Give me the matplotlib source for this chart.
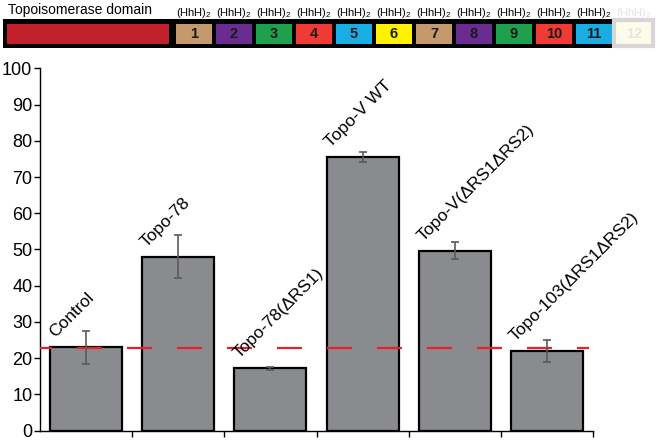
import matplotlib
matplotlib.use("Agg")
import matplotlib.pyplot as plt
from matplotlib.patches import Rectangle

plt.rcParams['font.family'] = ['Liberation Sans', 'DejaVu Sans']
plt.rcParams['mathtext.fontset'] = 'custom'
plt.rcParams['mathtext.rm'] = 'Liberation Sans'
plt.rcParams['lines.scale_dashes'] = False

# ---- data ----
categories = ['Control', 'Topo-78', 'Topo-78(\u0394RS1)', 'Topo-V WT',
              'Topo-V(\u0394RS1\u0394RS2)', 'Topo-103(\u0394RS1\u0394RS2)']
values = [23.0, 48.0, 17.2, 75.6, 49.7, 22.0]
err_low = [18.5, 42.0, 16.8, 74.2, 47.5, 19.0]
err_high = [27.5, 54.0, 17.6, 77.0, 52.0, 25.0]
control_level = 22.8
y_ticks = list(range(0, 101, 10))

domain_title = 'Topoisomerase domain'
hhh_numbers = ['1', '2', '3', '4', '5', '6', '7', '8', '9', '10', '11', '12']
hhh_colors = ['#C49A6C', '#6A2C91', '#1FA04F', '#EE3B33', '#1AADE4', '#FFF200',
              '#C49A6C', '#6A2C91', '#1FA04F', '#EE3B33', '#1AADE4', '#FDFBE9']
topo_color = '#C1212B'

W, H = 661, 440
fig = plt.figure(figsize=(W / 100, H / 100), dpi=100)

# ---- main bar chart ----
ax = fig.add_axes([40 / W, 9.5 / H, 553 / W, 362 / H])
x = [i + 0.5 for i in range(len(categories))]
ax.bar(x, values, width=0.78, color='#8A8B8E', edgecolor='black', linewidth=1.6, zorder=2)
yerr = [[v - lo for v, lo in zip(values, err_low)], [hi - v for v, hi in zip(values, err_high)]]
ax.errorbar(x, values, yerr=yerr, fmt='none', ecolor='#5A5A5A', elinewidth=1.2,
            capsize=2.8, capthick=1.2, zorder=4)
ax.plot([0, 5.96], [control_level, control_level], color='#E8202A', linewidth=1.6,
        linestyle=(9.4, (18, 18)), dash_capstyle='butt', zorder=3)

for i, (lab, v) in enumerate(zip(categories, values)):
    ax.text(i + 0.16, v + 2.5, lab, rotation=45, rotation_mode='anchor',
            ha='left', va='baseline', fontsize=12.5, zorder=5)

ax.set_xlim(0, 6)
ax.set_ylim(0, 100)
ax.set_yticks(y_ticks)
ax.set_xticks(range(1, 7))
ax.set_xticklabels([])
ax.tick_params(axis='y', labelsize=13, length=4, width=1, direction='out', pad=1.5)
ax.tick_params(axis='x', length=4, width=1, direction='out')
for s in ['top', 'right']:
    ax.spines[s].set_visible(False)
for s in ['left', 'bottom']:
    ax.spines[s].set_linewidth(1)

# ---- domain schematic (pixel coordinates) ----
hx = fig.add_axes([0, 0, 1, 1], zorder=10)
hx.set_xlim(0, W)
hx.set_ylim(H, 0)
hx.axis('off')
hx.patch.set_alpha(0)

hx.add_patch(Rectangle((3, 19), 614, 29, facecolor='black', edgecolor='none'))
hx.add_patch(Rectangle((7, 24), 162, 20, facecolor=topo_color, edgecolor='none'))
hx.text(8, 10, domain_title, fontsize=10, ha='left', va='center')
for k, (num, col) in enumerate(zip(hhh_numbers, hhh_colors)):
    left = 176 + k * 40
    last = (k == len(hhh_numbers) - 1)
    if last:
        hx.add_patch(Rectangle((left - 2, 20.5), 39, 26, facecolor=col,
                               edgecolor='#D6D6D6', linewidth=3))
    else:
        hx.add_patch(Rectangle((left, 24), 36, 20, facecolor=col, edgecolor='none'))
    hx.text(left + 18, 34.5, num, fontsize=10.5, fontweight='bold', ha='center', va='center',
            color='#E6E6DC' if last else '#1A1A1A')
    hx.text(left + 18, 13, r'(HhH)$_\mathregular{2}$', fontsize=8, ha='center', va='center',
            color='#E3E3E3' if last else 'black')

fig.savefig('out.png', dpi=100)
